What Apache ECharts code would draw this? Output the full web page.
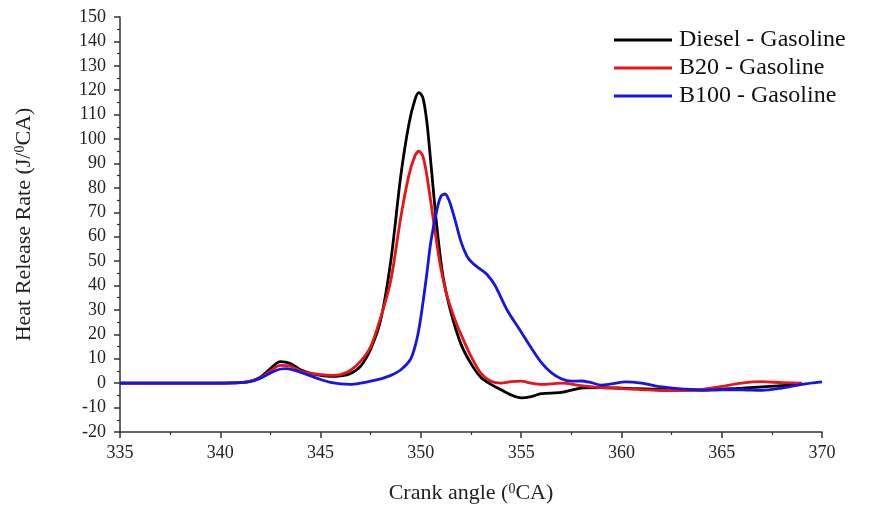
<!DOCTYPE html>
<html>
<head>
<meta charset="utf-8">
<script src="https://cdn.jsdelivr.net/npm/echarts@6/dist/echarts.min.js"></script>
<style>
    html, body { margin: 0; padding: 0; background: #fff; }
    #chart { width: 873px; height: 505px; }
</style>
</head>
<body>
<div id="chart"></div>
<script>
// crank angle (deg CA) / heat release rate (J/deg CA)
const dieselX = [335, 340, 341, 341.5, 342, 342.5, 343, 343.5, 344, 344.5, 345, 345.5, 346, 346.5, 347, 347.5, 348, 348.5, 349, 349.4, 349.7, 349.9, 350.1, 350.3, 350.5, 350.8, 351.1, 351.5, 352, 352.5, 353, 353.5, 354, 354.5, 355, 355.5, 356, 357, 358, 359, 360, 362, 364, 366, 368, 369];
const dieselY = [0, 0, 0.2, 0.8, 2.5, 6, 8.8, 8, 5.5, 4, 3.2, 2.8, 3, 4, 7, 14, 26, 50, 85, 106, 116, 119, 117, 107, 90, 64, 44, 29, 16, 8, 2.3, -0.5, -2.7, -4.8, -6, -5.5, -4.3, -3.8, -2, -1.8, -2, -2.6, -2.8, -2, -1, -0.5];

const b20X = [335, 340, 341, 341.5, 342, 342.5, 343, 343.5, 344, 344.5, 345, 345.5, 346, 346.5, 347, 347.5, 348, 348.5, 349, 349.4, 349.7, 349.9, 350.1, 350.3, 350.5, 350.8, 351, 351.3, 351.7, 352, 352.5, 353, 353.5, 354, 354.5, 355, 355.5, 356, 357, 358, 359, 360, 361, 362, 363, 364, 365, 366, 367, 368, 369];
const b20Y = [0, 0, 0.2, 0.8, 2.2, 5, 7.3, 7, 5, 4, 3.5, 3.2, 3.5, 5.3, 9, 15, 27, 42, 68, 85, 93, 95, 93, 85, 74, 57, 47, 36, 26, 20, 11, 4, 0.8, 0, 0.6, 0.8, 0, -0.5, 0, -1, -1.8, -2.2, -2.6, -3, -3, -2.6, -1.3, 0, 0.6, 0.2, 0];

const b100X = [335, 340, 341, 341.5, 342, 342.5, 343, 343.3, 343.8, 344.5, 345, 345.5, 346, 346.5, 347, 347.5, 348, 348.5, 349, 349.5, 349.8, 350, 350.3, 350.5, 350.8, 351, 351.2, 351.4, 351.7, 352, 352.3, 352.6, 353, 353.3, 353.7, 354.3, 355, 355.5, 356, 356.5, 357, 357.5, 358, 358.5, 359, 359.5, 360.2, 361, 362, 363, 364, 365, 366, 367, 368, 369, 370];
const b100Y = [0, 0, 0.2, 0.6, 2, 4.2, 5.8, 6, 5, 3, 1.5, 0.3, -0.3, -0.5, 0, 0.8, 1.8, 3.2, 5.5, 10, 18, 27, 45, 58, 71, 76.5, 77.5, 75, 67, 58, 52, 49, 46.5, 44.5, 40, 30, 21, 14.5, 8.5, 4.3, 1.8, 0.8, 0.9, 0.2, -0.8, -0.3, 0.5, 0, -1.5, -2.3, -2.9, -2.7, -2.7, -2.9, -2, -0.5, 0.5];

const seriesNames = ['Diesel - Gasoline', 'B20 - Gasoline', 'B100 - Gasoline'];
const seriesColors = ['#000000', '#e81418', '#1616e4'];

function pairs(xs, ys) {
    return xs.map(function (x, i) {
        return [x, ys[i]];
    });
}

const font = 'Liberation Serif';

const nameRich = {
    a: { fontFamily: font, fontSize: 22, color: '#222' },
    s: { fontFamily: font, fontSize: 14, color: '#222', verticalAlign: 'top', padding: [0, 0, 9, 0] }
};

const axisCommon = {
    axisLine: { show: true, onZero: false, lineStyle: { color: '#333', width: 1.5 } },
    axisTick: { show: true, length: 6, lineStyle: { color: '#333', width: 1.5 } },
    minorTick: { show: true, splitNumber: 2, length: 3, lineStyle: { color: '#333', width: 1.2 } },
    splitLine: { show: false }
};

var option = {
    animation: false,
    backgroundColor: '#fff',
    grid: {
        left: 120,
        right: 51,
        top: 17,
        bottom: 73,
        outerBoundsMode: 'none'
    },
    legend: {
        orient: 'vertical',
        left: 609,
        top: 23,
        icon: 'rect',
        itemWidth: 58,
        itemHeight: 3,
        itemGap: 4,
        data: seriesNames,
        textStyle: { fontFamily: font, fontSize: 24, color: '#111', padding: [0, 0, 0, 2] }
    },
    xAxis: Object.assign({}, axisCommon, {
        type: 'value',
        min: 335,
        max: 370,
        interval: 5,
        name: '{a|Crank angle (}{s|0}{a|CA)}',
        nameLocation: 'middle',
        nameGap: 50,
        nameTextStyle: { rich: nameRich },
        axisLabel: { fontFamily: font, fontSize: 18, color: '#222', margin: 12 }
    }),
    yAxis: Object.assign({}, axisCommon, {
        type: 'value',
        min: -20,
        max: 150,
        interval: 10,
        name: '{a|Heat Release Rate (J/}{s|0}{a|CA)}',
        nameLocation: 'middle',
        nameGap: 84,
        nameTextStyle: { rich: nameRich },
        axisLabel: { fontFamily: font, fontSize: 18, color: '#222', margin: 14 }
    }),
    series: [{
        name: seriesNames[0],
        type: 'line',
        data: pairs(dieselX, dieselY),
        smooth: 0.3,
        symbol: 'none',
        lineStyle: { width: 2.8 }
    }, {
        name: seriesNames[1],
        type: 'line',
        data: pairs(b20X, b20Y),
        smooth: 0.3,
        symbol: 'none',
        lineStyle: { width: 2.8 }
    }, {
        name: seriesNames[2],
        type: 'line',
        data: pairs(b100X, b100Y),
        smooth: 0.3,
        symbol: 'none',
        lineStyle: { width: 2.8 }
    }],
    color: seriesColors
};

var lineChart = echarts.init(document.getElementById('chart'));
lineChart.setOption(option);
</script>
</body>
</html>
